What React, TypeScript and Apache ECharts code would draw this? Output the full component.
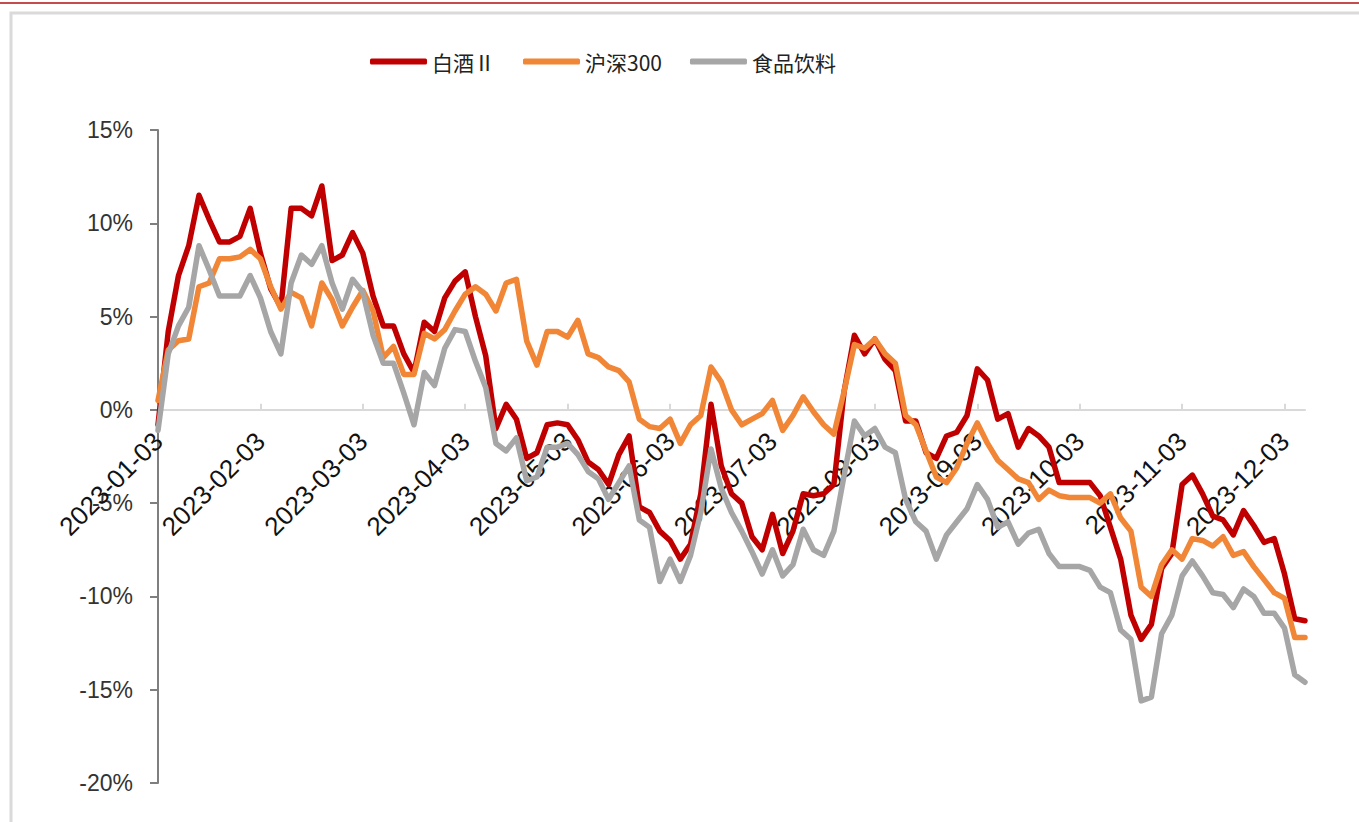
import React, { useEffect, useRef } from "react";
import * as echarts from "echarts";

const months = ["01", "02", "03", "04", "05", "06", "07", "08", "09", "10", "11", "12"];
const days = ["03", "06", "09", "12", "15", "18", "21", "24", "27", "30"];
const febDays = ["03", "06", "09", "12", "15", "18", "21", "24", "27", "28"];
const decDays = ["03", "06", "09"];

const categories: string[] = [];
months.forEach((m) => {
  const ds = m === "02" ? febDays : m === "12" ? decDays : days;
  ds.forEach((d) => categories.push(`2023-${m}-${d}`));
});

const seriesNames = ["白酒Ⅱ", "沪深300", "食品饮料"];
const seriesColors = ["#C00000", "#F08636", "#A6A6A6"];

const baijiu = [
  -0.8, 4.2, 7.2, 8.8, 11.5, 10.2, 9.0, 9.0, 9.3, 10.8,
  8.4, 6.5, 5.5, 10.8, 10.8, 10.4, 12.0, 8.0, 8.3, 9.5,
  8.4, 6.1, 4.5, 4.5, 3.0, 2.0, 4.7, 4.2, 6.0, 6.9,
  7.4, 5.0, 2.9, -1.0, 0.3, -0.5, -2.6, -2.3, -0.8, -0.7,
  -0.8, -1.6, -2.8, -3.2, -4.0, -2.4, -1.4, -5.2, -5.5, -6.5,
  -7.0, -8.0, -7.2, -4.5, 0.3, -3.0, -4.5, -5.0, -6.8, -7.5,
  -5.6, -7.7, -6.5, -4.5, -4.6, -4.5, -4.0, 1.0, 4.0, 3.0,
  3.8, 2.7, 2.1, -0.6, -0.6, -2.3, -2.6, -1.4, -1.2, -0.3,
  2.2, 1.6, -0.5, -0.2, -2.0, -1.0, -1.4, -2.0, -3.9, -3.9,
  -3.9, -3.9, -4.6, -6.3, -8.0, -11.0, -12.3, -11.5, -8.5, -7.7,
  -4.0, -3.5, -4.5, -5.7, -5.9, -6.7, -5.4, -6.2, -7.1, -6.9,
  -8.8, -11.2, -11.3,
];

const hs300 = [
  0.5, 3.2, 3.7, 3.8, 6.6, 6.8, 8.1, 8.1, 8.2, 8.6,
  8.1, 6.6, 5.4, 6.3, 6.0, 4.5, 6.8, 5.9, 4.5, 5.5,
  6.4, 5.3, 2.8, 3.4, 1.9, 1.9, 4.1, 3.8, 4.3, 5.3,
  6.2, 6.6, 6.2, 5.3, 6.8, 7.0, 3.7, 2.4, 4.2, 4.2,
  3.9, 4.8, 3.0, 2.8, 2.3, 2.1, 1.5, -0.5, -0.9, -1.0,
  -0.5, -1.8, -0.8, -0.3, 2.3, 1.5, 0.0, -0.8, -0.5, -0.2,
  0.5, -1.1, -0.3, 0.7, -0.1, -0.8, -1.3, 1.0, 3.5, 3.3,
  3.8, 3.0, 2.5, -0.3, -0.8, -2.2, -3.6, -3.9, -3.1, -1.8,
  -0.7, -1.8, -2.7, -3.2, -3.7, -3.9, -4.8, -4.3, -4.6, -4.7,
  -4.7, -4.7, -5.0, -4.5, -5.8, -6.5, -9.5, -10.0, -8.3, -7.5,
  -8.0, -6.9, -7.0, -7.3, -6.8, -7.8, -7.6, -8.4, -9.1, -9.8,
  -10.1, -12.2, -12.2,
];

const foodBev = [
  -1.1, 3.0, 4.5, 5.5, 8.8, 7.5, 6.1, 6.1, 6.1, 7.2,
  6.0, 4.2, 3.0, 6.8, 8.3, 7.8, 8.8, 6.8, 5.4, 7.0,
  6.3, 4.0, 2.5, 2.5, 0.9, -0.8, 2.0, 1.3, 3.3, 4.3,
  4.2, 2.6, 1.2, -1.8, -2.2, -1.5, -3.8, -3.6, -2.0, -2.0,
  -1.8, -2.4, -3.3, -3.7, -4.8, -3.9, -3.0, -5.9, -6.3, -9.2,
  -8.0, -9.2, -7.8, -5.5, -2.1, -4.2, -5.5, -6.5, -7.6, -8.8,
  -7.5, -8.9, -8.3, -6.4, -7.5, -7.8, -6.5, -3.5, -0.6, -1.4,
  -1.0, -2.0, -2.3, -4.8, -6.0, -6.5, -8.0, -6.7, -6.0, -5.3,
  -4.0, -4.8, -6.3, -6.0, -7.2, -6.6, -6.4, -7.7, -8.4, -8.4,
  -8.4, -8.6, -9.5, -9.8, -11.8, -12.3, -15.6, -15.4, -12.0, -11.0,
  -8.9, -8.1, -8.9, -9.8, -9.9, -10.6, -9.6, -10.0, -10.9, -10.9,
  -11.7, -14.2, -14.6,
];

const yMin = -20;
const yMax = 15;
const yStep = 5;

export default function App() {
  const ref = useRef<HTMLDivElement>(null);

  useEffect(() => {
    if (!ref.current) return;
    const chart = echarts.init(ref.current, null, { renderer: "svg" });
    const values = [baijiu, hs300, foodBev];
    const plotTop = 130;
    const plotBottom = 783;
    const zeroY = plotTop + ((plotBottom - plotTop) * yMax) / (yMax - yMin);
    chart.setOption({
      animation: false,
      backgroundColor: "#ffffff",
      graphic: [
        {
          type: "line",
          shape: { x1: 0, y1: 3, x2: 1359, y2: 3 },
          style: { stroke: "#B01010", lineWidth: 1.5 },
          silent: true,
        },
        {
          type: "rect",
          shape: { x: 11, y: 13, width: 1400, height: 900 },
          style: { fill: "none", stroke: "#DADADA", lineWidth: 3 },
          silent: true,
        },
      ],
      legend: {
        left: 365,
        top: 46,
        icon: "roundRect",
        itemWidth: 57,
        itemHeight: 6,
        itemGap: 28,
        textStyle: {
          fontSize: 21,
          color: "#222",
          fontFamily: "Noto Sans CJK SC",
        },
        data: seriesNames,
      },
      grid: {
        left: 158,
        right: 54,
        top: plotTop,
        bottom: 822 - plotBottom,
        containLabel: false,
        outerBoundsMode: "none",
      },
      xAxis: {
        type: "category",
        data: categories,
        boundaryGap: false,
        offset: -(plotBottom - zeroY),
        axisLine: { onZero: false, lineStyle: { color: "#D9D9D9", width: 2 } },
        axisTick: {
          show: true,
          inside: true,
          length: 6,
          interval: 9,
          lineStyle: { color: "#D9D9D9", width: 2 },
        },
        axisLabel: {
          interval: 9,
          rotate: 45,
          margin: 27,
          fontSize: 26,
          color: "#111",
          fontFamily: "Liberation Sans",
        },
        splitLine: { show: false },
      },
      yAxis: {
        type: "value",
        min: yMin,
        max: yMax,
        interval: yStep,
        axisLine: { show: true, lineStyle: { color: "#7F7F7F", width: 2 } },
        axisTick: { show: true, length: 8, lineStyle: { color: "#7F7F7F", width: 2 } },
        splitLine: { show: false },
        axisLabel: {
          formatter: (v: number) => `${v}%`,
          fontSize: 23,
          color: "#333",
          margin: 25,
          fontFamily: "Liberation Sans",
        },
      },
      series: seriesNames.map((name, i) => ({
        name,
        type: "line",
        data: values[i],
        showSymbol: false,
        symbol: "none",
        smooth: false,
        color: seriesColors[i],
        lineStyle: { width: 5.5, color: seriesColors[i], join: "round", cap: "round" },
      })),
    });
    return () => chart.dispose();
  }, []);

  return (
    <div
      ref={ref}
      style={{ position: "absolute", left: 0, top: 0, width: 1359, height: 822, background: "#fff" }}
    />
  );
}
